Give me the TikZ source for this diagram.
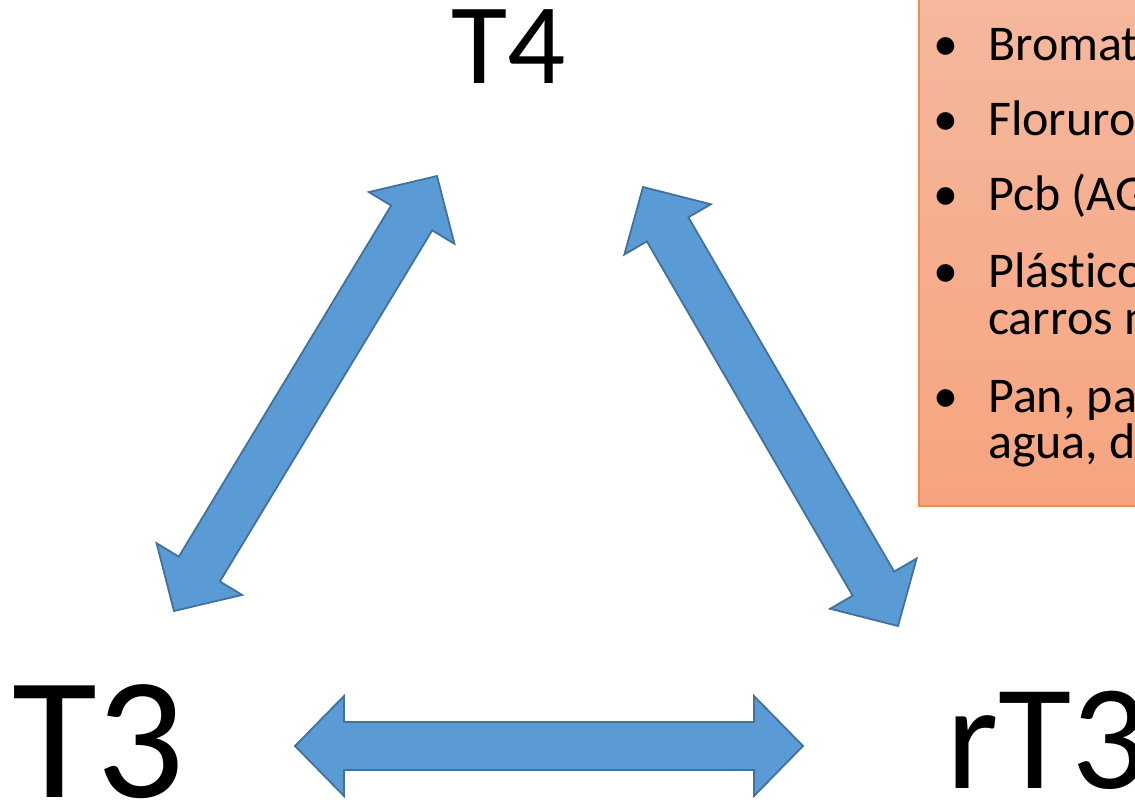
\documentclass[tikz,border=0pt]{standalone}
\usepackage{fontspec}
\setmainfont{Carlito}[Ligatures={NoCommon}]
\usetikzlibrary{calc}
\definecolor{arrowfill}{HTML}{5B9BD5}
\definecolor{arrowline}{HTML}{41719C}
\definecolor{boxtop}{HTML}{F5B89E}
\definecolor{boxbot}{HTML}{F6A47F}
\definecolor{boxline}{HTML}{F08C4E}
\tikzset{
  blockarrow/.style={fill=arrowfill, draw=arrowline, line width=1.8pt, line join=miter},
  biglabel/.style={inner sep=0pt, anchor=base west, text=black},
  bullettext/.style={inner sep=0pt, anchor=base west, font=\fontsize{50}{50}\selectfont},
  bulletmark/.style={inner sep=0pt, anchor=base, font=\fontsize{50}{50}\selectfont},
  listbox/.style={top color=boxtop, bottom color=boxbot, draw=boxline, line width=1.5pt}
}
\newcommand\dblblockarrow[2]{%
  \path ($(#1)!49pt!(#2)$) coordinate (h1) ($(#2)!49pt!(#1)$) coordinate (h2);
  \filldraw[blockarrow] (#1)
    -- ($(h1)!50pt!90:(#2)$) -- ($(h1)!24pt!90:(#2)$)
    -- ($(h2)!24pt!-90:(#1)$) -- ($(h2)!50pt!-90:(#1)$)
    -- (#2)
    -- ($(h2)!50pt!90:(#1)$) -- ($(h2)!24pt!90:(#1)$)
    -- ($(h1)!24pt!-90:(#2)$) -- ($(h1)!50pt!-90:(#2)$)
    -- cycle;
}
\begin{document}
\begin{tikzpicture}[x=1pt,y=-1pt]
\useasboundingbox (0,0) rectangle (1135,801);
\clip (0,0) rectangle (1135,801);
% labels
\node[inner sep=0pt, anchor=base, font=\fontsize{115}{115}\selectfont] (t4) at (509,83) {T4};
\node[biglabel, font=\fontsize{174}{174}\selectfont] (t3) at (12,797) {T3};
\node[biglabel, font=\fontsize{150}{150}\selectfont] (rt3) at (946,788) {rT3};
% arrow end points
\coordinate (la) at (437,176);
\coordinate (lb) at (174,611);
\coordinate (ra) at (643,187);
\coordinate (rb) at (898,626);
\coordinate (ba) at (295,746);
\coordinate (bb) at (803,746);
\dblblockarrow{la}{lb}
\dblblockarrow{ra}{rb}
\dblblockarrow{ba}{bb}
% box
\node[listbox, inner sep=0pt, anchor=north west, minimum width=240pt, minimum height=515pt] (box) at (918,-10) {};
\foreach \y [count=\i] in {60, 135, 210, 287, 412} {
  \node[bulletmark] (b\i) at (946,\y) {•};
}
\node[bullettext] (l1) at (988,60) {Bromat};
\node[bullettext] (l2) at (988,135) {Floruro};
\node[bullettext] (l3) at (988,210) {Pcb (AG};
\node[bullettext] (l4) at (988,287) {Plástico};
\node[bullettext] (l4b) at (988,334) {carros n};
\node[bullettext] (l5) at (988,412) {Pan, pa};
\node[bullettext] (l5b) at (988,458) {agua, d};
\end{tikzpicture}
\end{document}
